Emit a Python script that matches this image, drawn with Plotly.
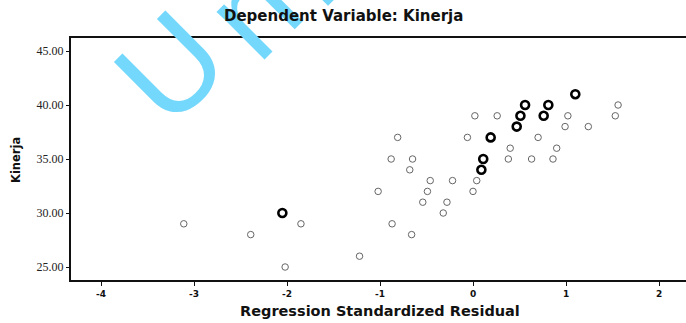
import plotly.graph_objects as go

# Data (Regression Standardized Residual vs Kinerja)
bold_resid = [1.10, 0.56, 0.81, 0.51, 0.76, 0.47, 0.19, 0.11, 0.09, -2.05]
bold_kinerja = [41, 40, 40, 39, 39, 38, 37, 35, 34, 30]

faint_resid = [1.56, 0.02, 0.26, 1.02, 1.53, 0.99, 1.24, -0.81, -0.06, 0.70,
               0.40, 0.90, -0.88, -0.65, 0.38, 0.63, 0.86, -0.68, -0.46, -0.22,
               0.04, -1.02, -0.49, 0.00, -0.54, -0.28, -0.32, -3.11, -1.85, -0.87,
               -2.39, -0.66, -1.22, -2.02]
faint_kinerja = [40, 39, 39, 39, 39, 38, 38, 37, 37, 37,
                 36, 36, 35, 35, 35, 35, 35, 34, 33, 33,
                 33, 32, 32, 32, 31, 31, 30, 29, 29, 29,
                 28, 28, 26, 25]

x_ticks = [-4, -3, -2, -1, 0, 1, 2]
x_tick_labels = ["-4", "-3", "-2", "-1", "0", "1", "2"]
y_ticks = [25, 30, 35, 40, 45]
y_tick_labels = ["25.00", "30.00", "35.00", "40.00", "45.00"]

W, H = 686, 323
L, R, T, B = 71, 0, 38, 43

fig = go.Figure()
fig.add_trace(go.Scatter(
    x=faint_resid, y=faint_kinerja, mode="markers",
    marker=dict(symbol="circle-open", size=6.5, color="#666666",
                line=dict(width=1, color="#666666")),
    showlegend=False, hoverinfo="skip"))
fig.add_trace(go.Scatter(
    x=bold_resid, y=bold_kinerja, mode="markers",
    marker=dict(symbol="circle-open", size=8, color="black",
                line=dict(width=2.6, color="black")),
    showlegend=False, hoverinfo="skip"))

def px2paper(px, py):
    return (px - L) / (W - L - R), (H - B - py) / (H - T - B)

annots = []
# watermark
for ch, (cx, cy) in [("U", (170, 67)), ("n", (252, 10)), ("i", (300, -30))]:
    ax_, ay_ = px2paper(cx, cy)
    annots.append(dict(text=ch, x=ax_, y=ay_, xref="paper", yref="paper",
                       xanchor="center", yanchor="middle", showarrow=False,
                       textangle=-45,
                       font=dict(family="Liberation Sans", size=128, color="#74D8FC")))

tx, ty = px2paper(343, 16)
annots.append(dict(text="<b>Dependent Variable: Kinerja</b>", x=tx, y=ty,
                   xref="paper", yref="paper", showarrow=False,
                   xanchor="center", yanchor="middle",
                   font=dict(family="DejaVu Sans", size=15, color="#111")))
xx, xy = px2paper(380, 311)
annots.append(dict(text="<b>Regression Standardized Residual</b>", x=xx, y=xy,
                   xref="paper", yref="paper", showarrow=False,
                   xanchor="center", yanchor="middle",
                   font=dict(family="DejaVu Sans", size=14.5, color="#111")))
yx, yy = px2paper(16, 160)
annots.append(dict(text="<b>Kinerja</b>", x=yx, y=yy, textangle=-90,
                   xref="paper", yref="paper", showarrow=False,
                   xanchor="center", yanchor="middle",
                   font=dict(family="DejaVu Sans", size=11.5, color="#111")))

fig.update_layout(
    width=W, height=H,
    margin=dict(l=L, r=R, t=T, b=B, pad=0),
    paper_bgcolor="white", plot_bgcolor="white",
    annotations=annots,
    xaxis=dict(range=[(L - 473) / 93.0, (W - R - 473) / 93.0],
               tickvals=x_ticks, ticktext=["<b>%s</b>" % t for t in x_tick_labels],
               showgrid=False, zeroline=False,
               showline=True, linecolor="#111", linewidth=2, mirror=True,
               ticks="outside", ticklen=4, tickcolor="#111", tickwidth=1,
               tickfont=dict(family="DejaVu Sans", size=9, color="#111")),
    yaxis=dict(range=[30 - (H - B - 213) / 10.8, 30 + (213 - T) / 10.8],
               tickvals=y_ticks, ticktext=y_tick_labels,
               showgrid=False, zeroline=False,
               showline=True, linecolor="#111", linewidth=2, mirror=False,
               ticks="outside", ticklen=3, tickcolor="#111", tickwidth=1,
               tickfont=dict(family="Liberation Serif", size=12, color="#222")),
)

fig.write_html("out.html")
